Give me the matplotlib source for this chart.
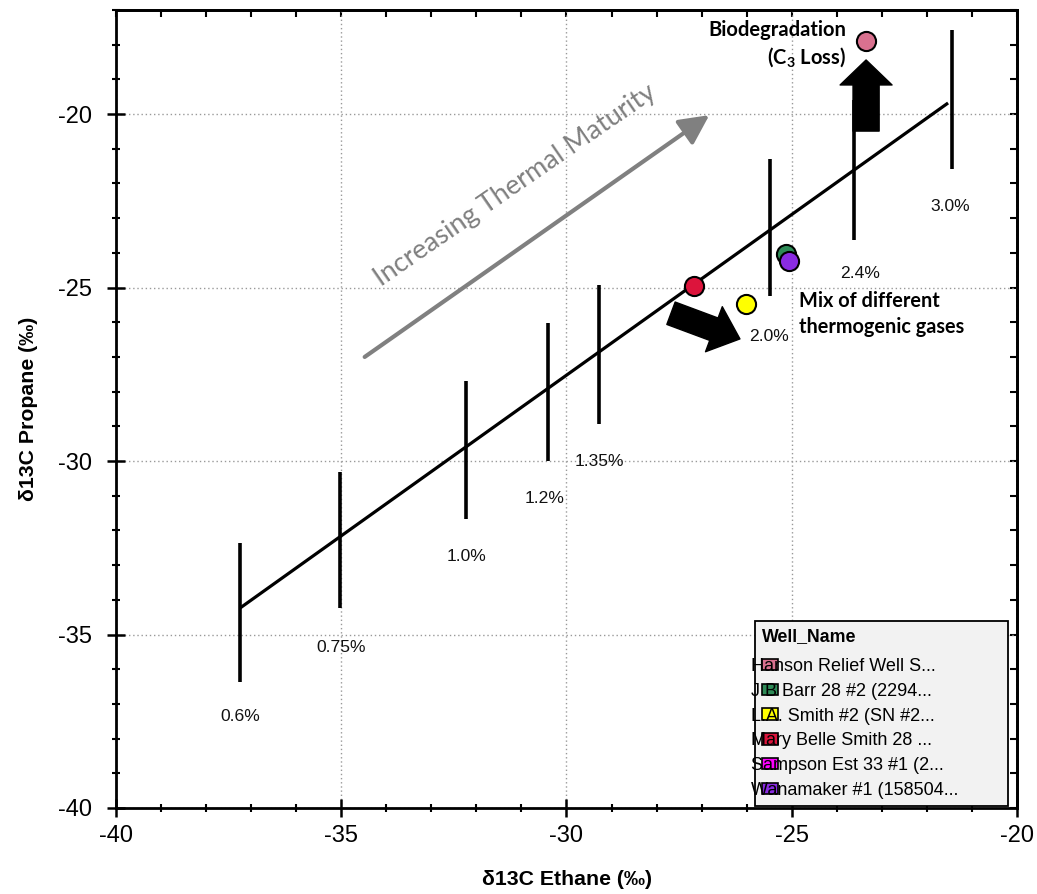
import matplotlib
matplotlib.use('Agg')
import matplotlib.pyplot as plt
from matplotlib.patches import Rectangle, FancyArrowPatch
from matplotlib.ticker import MultipleLocator

plt.rcParams['font.family'] = ['Liberation Sans', 'DejaVu Sans']
plt.rcParams['axes.unicode_minus'] = False
plt.rcParams['mathtext.fontset'] = 'custom'
plt.rcParams['mathtext.rm'] = 'Lato:bold'
plt.rcParams['mathtext.default'] = 'rm'

# ---- data ----
vr_labels = ['0.6%', '0.75%', '1.0%', '1.2%', '1.35%', '2.0%', '2.4%', '3.0%']
vr_ethane = [-37.25, -35.03, -32.22, -30.42, -29.27, -25.48, -23.61, -21.45]
vr_propane_top = [-32.37, -30.33, -27.68, -26.01, -24.92, -21.29, -19.6, -17.58]
vr_propane_bottom = [-36.37, -34.24, -31.68, -29.99, -28.92, -25.24, -23.63, -21.59]
vr_label_offsets = [(0, -25), (1, -28), (0, -27), (-2, -27), (0, -27), (-1, -29), (4, -24), (-1, -27)]

trend_ethane = [-37.25, -21.53]
trend_propane = [-34.24, -19.68]

wells = ['Hanson Relief Well S...', 'J B Barr 28 #2 (2294...', 'L.A. Smith #2 (SN #2...',
         'Mary Belle Smith 28 ...', 'Sampson Est 33 #1 (2...', 'Wanamaker #1 (158504...']
well_colors = ['#d9718f', '#2e8b57', '#ffff00', '#dc143c', '#ff00ff', '#8a2be2']
well_ethane = [[-23.35], [-25.12], [-26.01], [-27.16], [], [-25.06]]
well_propane = [[-17.9], [-24.03], [-25.47], [-24.95], [], [-24.23]]

x_ticks = [-40, -35, -30, -25, -20]
y_ticks = [-40, -35, -30, -25, -20]

# ---- figure ----
fig = plt.figure(figsize=(10.37, 8.94), dpi=100)
ax = fig.add_axes([116 / 1037, 86 / 894, 901 / 1037, 798 / 894])
ax.set_xlim(-40, -20)
ax.set_ylim(-40, -17)

ax.set_xticks(x_ticks)
ax.set_yticks(y_ticks)
ax.xaxis.set_minor_locator(MultipleLocator(1))
ax.yaxis.set_minor_locator(MultipleLocator(1))
ax.grid(True, which='major', linestyle=(0, (1, 2)), color='#999999', linewidth=1.0, zorder=0)
ax.set_axisbelow(True)
ax.tick_params(which='major', direction='inout', length=13, width=1.8, labelsize=17)
ax.tick_params(which='minor', direction='inout', length=6, width=1.5)
ax.tick_params(axis='x', which='major', pad=6)
ax.tick_params(axis='y', which='major', pad=10.5)
for s in ax.spines.values():
    s.set_linewidth(2)

secx = ax.secondary_xaxis('top')
secx.set_xticks(x_ticks)
secx.xaxis.set_minor_locator(MultipleLocator(1))
secx.tick_params(which='both', direction='in', length=5, width=1.5, labeltop=False)
secx.spines['top'].set_linewidth(2)
secy = ax.secondary_yaxis('right')
secy.set_yticks(y_ticks)
secy.yaxis.set_minor_locator(MultipleLocator(1))
secy.tick_params(which='both', direction='in', length=5, width=1.5, labelright=False)
secy.spines['right'].set_linewidth(2)

ax.set_xlabel('δ13C Ethane (‰)', fontsize=15.3, fontweight='bold', labelpad=16)
ax.set_ylabel('δ13C Propane (‰)', fontsize=15.3, fontweight='bold', labelpad=15)

# trend line and maturity bars
ax.plot(trend_ethane, trend_propane, color='black', lw=2.3, zorder=3, solid_capstyle='butt')
ax.vlines(vr_ethane, vr_propane_bottom, vr_propane_top, color='black', lw=2.6, zorder=3)
for x, yb, lab, off in zip(vr_ethane, vr_propane_bottom, vr_labels, vr_label_offsets):
    ax.annotate(lab, (x, yb), xytext=off, textcoords='offset points',
                ha='center', va='center', fontsize=12.6, color='#111111', zorder=8)

# wells
for name, c, xs, ys in zip(wells, well_colors, well_ethane, well_propane):
    ax.scatter(xs, ys, s=190, color=c, edgecolor='black', linewidth=1.5, zorder=5)

# gray maturity arrow
ax.annotate('', xy=(-26.83, -20.03), xytext=(-34.48, -27.0),
            arrowprops=dict(arrowstyle='-|>,head_length=0.9,head_width=0.45', color='#808080',
                            lw=3, mutation_scale=20, shrinkA=0, shrinkB=0), zorder=4)
ax.text(-31.15, -22.05, 'Increasing Thermal Maturity', rotation=34.6, rotation_mode='anchor',
        ha='center', va='center', fontsize=19.5, color='#808080', family='Lato', zorder=4)

# black fat arrows
ax.add_patch(FancyArrowPatch((-23.35, -20.49), (-23.35, -18.44),
                             arrowstyle='simple,head_length=0.9,head_width=1.87,tail_width=0.94',
                             mutation_scale=20, color='black', shrinkA=0, shrinkB=0, zorder=6))
ax.add_patch(FancyArrowPatch((-27.68, -25.74), (-26.15, -26.48),
                             arrowstyle='simple,head_length=1.0,head_width=1.73,tail_width=0.86',
                             mutation_scale=20, color='black', shrinkA=0, shrinkB=0, zorder=6))

# annotations
ax.text(-23.79, -17.58, 'Biodegradation', ha='right', va='center', fontsize=14.5,
        fontweight='bold', family='Lato', zorder=7)
ax.text(-23.79, -18.36, '(C$_3$ Loss)', ha='right', va='center', fontsize=14.5,
        fontweight='bold', family='Lato', zorder=7)
ax.text(-24.84, -25.39, 'Mix of different', ha='left', va='center', fontsize=14.3,
        fontweight='bold', family='Lato', zorder=7)
ax.text(-24.84, -26.14, 'thermogenic gases', ha='left', va='center', fontsize=14.3,
        fontweight='bold', family='Lato', zorder=7)

# legend
handles = [Rectangle((0, 0), 1, 1, facecolor=c, edgecolor='black', lw=1.2) for c in well_colors]
leg = ax.legend(handles, wells, title='Well_Name', loc='upper left',
                bbox_to_anchor=(0.709, 0.0, 0.281, 0.234), mode='expand', borderaxespad=0,
                fontsize=13, title_fontproperties={'weight': 'bold', 'size': 12.8},
                alignment='left', handlelength=0.9, handleheight=0.6, handletextpad=-1.5,
                labelspacing=0.43, borderpad=0.4, fancybox=False, framealpha=1)
leg.get_frame().set_facecolor('#f2f2f2')
leg.get_frame().set_edgecolor('black')
leg.get_frame().set_linewidth(1.3)
leg.set_zorder(10)
leg._legend_box.sep = 9

fig.savefig('out.png', dpi=100)
